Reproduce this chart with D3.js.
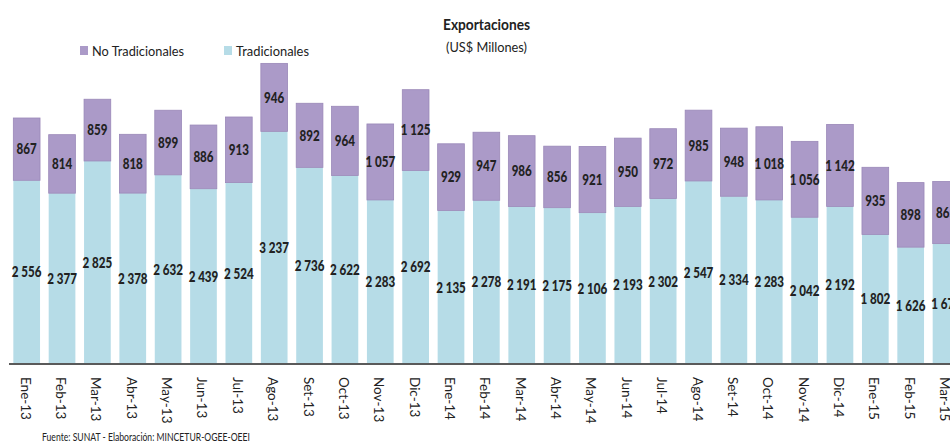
<!DOCTYPE html>
<html>
<head>
<meta charset="utf-8">
<script src="https://cdn.jsdelivr.net/npm/d3@7"></script>
<style>
  html, body { margin: 0; padding: 0; background: #fff; overflow: hidden; }
  svg { display: block; }
  text { font-family: Lato, "Liberation Sans", sans-serif; fill: #222; }
</style>
</head>
<body>
<svg id="chart" width="950" height="447"></svg>
<script>
// Monthly exports, US$ millions
const months = ["Ene-13","Feb-13","Mar-13","Abr-13","May-13","Jun-13","Jul-13","Ago-13","Set-13","Oct-13","Nov-13","Dic-13",
                "Ene-14","Feb-14","Mar-14","Abr-14","May-14","Jun-14","Jul-14","Ago-14","Set-14","Oct-14","Nov-14","Dic-14",
                "Ene-15","Feb-15","Mar-15"];
const tradicionales = [2556,2377,2825,2378,2632,2439,2524,3237,2736,2622,2283,2692,
                       2135,2278,2191,2175,2106,2193,2302,2547,2334,2283,2042,2192,
                       1802,1626,1675];
const noTradicionales = [867,814,859,818,899,886,913,946,892,964,1057,1125,
                         929,947,986,856,921,950,972,985,948,1018,1056,1142,
                         935,898,865];
const seriesNames = ["No Tradicionales", "Tradicionales"];

const colors = { trad: "#b6dce7", noTrad: "#ab9ac8", noTradEdge: "#9a88b8" };

const svg = d3.select("#chart");
const baseY = 364;
const narrow = 0.8; // horizontal squeeze giving a condensed look

const x = d3.scaleBand()
  .domain(months)
  .range([9, 9 + months.length * 35.36])
  .paddingInner(0.245)
  .paddingOuter(0.1225);

const y = d3.scaleLinear().domain([0, 4230]).range([baseY, 60]);

const fmt = v => d3.format(",")(v).replace(/,/g, " ");

const rows = months.map((m, i) => ({ m, t: tradicionales[i], n: noTradicionales[i] }));

const bars = svg.append("g");

// Tradicionales (bottom segment)
bars.selectAll("rect.trad").data(rows).join("rect")
  .attr("class", "trad")
  .attr("x", d => x(d.m))
  .attr("width", x.bandwidth())
  .attr("y", d => y(d.t))
  .attr("height", d => y(0) - y(d.t))
  .attr("fill", colors.trad);

// No Tradicionales (stacked on top)
bars.selectAll("rect.notrad").data(rows).join("rect")
  .attr("class", "notrad")
  .attr("x", d => x(d.m))
  .attr("width", x.bandwidth())
  .attr("y", d => y(d.t + d.n))
  .attr("height", d => y(d.t) - y(d.t + d.n))
  .attr("fill", colors.noTrad)
  .attr("stroke", colors.noTradEdge)
  .attr("stroke-width", 0.8);

// Value labels
const labels = svg.append("g")
  .attr("font-weight", 900)
  .attr("font-size", 14.5)
  .attr("text-anchor", "middle");

const cx = d => x(d.m) + x.bandwidth() / 2;

labels.selectAll("text.lt").data(rows).join("text")
  .attr("transform", d => `translate(${cx(d)},${(y(0) + y(d.t)) / 2}) scale(${narrow},1)`)
  .attr("dy", "0.36em")
  .text(d => fmt(d.t));

labels.selectAll("text.ln").data(rows).join("text")
  .attr("transform", d => `translate(${cx(d)},${(y(d.t) + y(d.t + d.n)) / 2}) scale(${narrow},1)`)
  .attr("dy", "0.36em")
  .text(d => fmt(d.n));

// Category axis
svg.append("line")
  .attr("x1", 9).attr("x2", 950)
  .attr("y1", baseY).attr("y2", baseY)
  .attr("stroke", "#5a5a5a").attr("stroke-width", 2);

svg.append("g").selectAll("text").data(months).join("text")
  .attr("transform", d => `translate(${x(d) + x.bandwidth() / 2 - 6},377) rotate(90)`)
  .attr("font-size", 13.5)
  .attr("text-anchor", "start")
  .text(d => d);

// Title
svg.append("text")
  .attr("x", 443).attr("y", 30)
  .attr("font-weight", "bold")
  .attr("font-size", 14.5)
  .attr("textLength", 87).attr("lengthAdjust", "spacingAndGlyphs")
  .text("Exportaciones");
svg.append("text")
  .attr("x", 446).attr("y", 52)
  .attr("font-size", 13)
  .attr("textLength", 81).attr("lengthAdjust", "spacingAndGlyphs")
  .text("(US$ Millones)");

// Legend
const legend = svg.append("g");
const legendItems = [
  { name: seriesNames[0], color: colors.noTrad, x: 80, w: 92 },
  { name: seriesNames[1], color: colors.trad, x: 224, w: 73 }
];
legendItems.forEach(it => {
  legend.append("rect")
    .attr("x", it.x).attr("y", 46)
    .attr("width", 8).attr("height", 9)
    .attr("fill", it.color);
  legend.append("text")
    .attr("x", it.x + 12).attr("y", 55.5)
    .attr("font-size", 14)
    .attr("textLength", it.w).attr("lengthAdjust", "spacingAndGlyphs")
    .text(it.name);
});

// Source note
svg.append("text")
  .attr("x", 42).attr("y", 441)
  .attr("font-size", 10.5)
  .attr("textLength", 208).attr("lengthAdjust", "spacingAndGlyphs")
  .text("Fuente: SUNAT  - Elaboración: MINCETUR-OGEE-OEEI");
</script>
</body>
</html>
